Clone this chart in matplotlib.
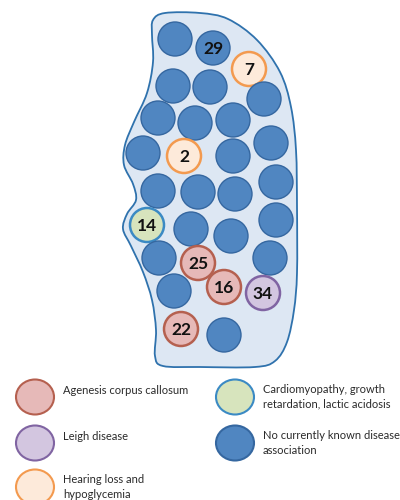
import matplotlib.pyplot as plt
import numpy as np
from matplotlib.patches import Circle, Ellipse, PathPatch
from matplotlib.path import Path

plt.rcParams['font.family'] = ['Lato', 'DejaVu Sans']

# categories and their colours (fill, edge)
categories = ['agenesis', 'cardio', 'leigh', 'none', 'hearing']
cat_text = ['Agenesis corpus callosum',
            'Cardiomyopathy, growth\nretardation, lactic acidosis',
            'Leigh disease',
            'No currently known disease\nassociation',
            'Hearing loss and\nhypoglycemia']
cat_fill = {'agenesis': '#e6b9b8', 'cardio': '#d7e4bd', 'leigh': '#d3c6e0',
            'none': '#5086c1', 'hearing': '#fdeada'}
cat_edge = {'agenesis': '#b5604f', 'cardio': '#3b8ac4', 'leigh': '#8064a2',
            'none': '#3567a0', 'hearing': '#f39a4f'}

# circles: label and category
labels = ['', '29', '7', '', '', '', '', '', '', '', '', '2', '', '', '', '', '',
          '14', '', '', '', '', '25', '', '', '16', '34', '22', '']
cats = ['none', 'none', 'hearing', 'none', 'none', 'none', 'none', 'none', 'none',
        'none', 'none', 'hearing', 'none', 'none', 'none', 'none', 'none',
        'cardio', 'none', 'none', 'none', 'none', 'agenesis', 'none', 'none',
        'agenesis', 'leigh', 'agenesis', 'none']

# layout of the circles (pixel coords)
cx = [175, 213, 249, 173, 210, 264, 158, 195, 233, 271, 143, 184, 233, 276, 158,
      198, 235, 147, 191, 231, 276, 159, 198, 270, 174, 224, 263, 181, 224]
cy = [39, 48, 69, 86, 87, 99, 118, 123, 120, 143, 153, 156, 156, 182, 191,
      192, 194, 225, 229, 236, 220, 258, 263, 258, 291, 287, 293, 329, 335]

# outline of the shape
outline = [(153, 20), (165, 13), (200, 13), (228, 19), (257, 40), (280, 72),
           (291, 107), (296, 150), (297, 207), (297, 273), (294, 310), (287, 342),
           (275, 361), (255, 367), (200, 367), (163, 366), (155, 356), (156, 330),
           (152, 300), (143, 272), (131, 246), (123, 229), (127, 214), (136, 200),
           (133, 184), (124, 165), (125, 145), (134, 122), (147, 93), (153, 62),
           (152, 35)]

fig = plt.figure(figsize=(4, 5), dpi=100)
ax = fig.add_axes([0, 0, 1, 1])
ax.set_xlim(0, 400)
ax.set_ylim(500, 0)
ax.axis('off')

# smooth closed curve through outline points (catmull-rom -> bezier)
pts = np.array(outline, dtype=float)
n = len(pts)
verts = [pts[0]]
codes = [Path.MOVETO]
for i in range(n):
    p0, p1, p2, p3 = pts[i - 1], pts[i], pts[(i + 1) % n], pts[(i + 2) % n]
    verts += [p1 + (p2 - p0) / 6, p2 - (p3 - p1) / 6, p2]
    codes += [Path.CURVE4] * 3
ax.add_patch(PathPatch(Path(verts, codes), facecolor='#dde7f3',
                       edgecolor='#2f72ad', lw=1.3))

for x, y, lab, c in zip(cx, cy, labels, cats):
    lw = 1.8 if c != 'none' else 1.0
    ax.add_patch(Circle((x, y), 17, facecolor=cat_fill[c], edgecolor=cat_edge[c], lw=lw))
    if lab:
        ax.text(x, y + 1, lab, ha='center', va='center', fontsize=12.5,
                fontweight='bold', color='#111111')

# legend
leg_x = [35, 235, 35, 235, 35]
leg_y = [397, 397, 443, 443, 487]
for c, t, x, y in zip(categories, cat_text, leg_x, leg_y):
    ax.add_patch(Ellipse((x, y), 38, 35, facecolor=cat_fill[c], edgecolor=cat_edge[c], lw=1.5))
    ty = y - 6 if t in ('Agenesis corpus callosum', 'Leigh disease') else y
    ax.text(x + 28, ty, t, ha='left', va='center', fontsize=8,
            color='#2a2a2a', linespacing=1.35)

fig.savefig('out.png', dpi=100)
